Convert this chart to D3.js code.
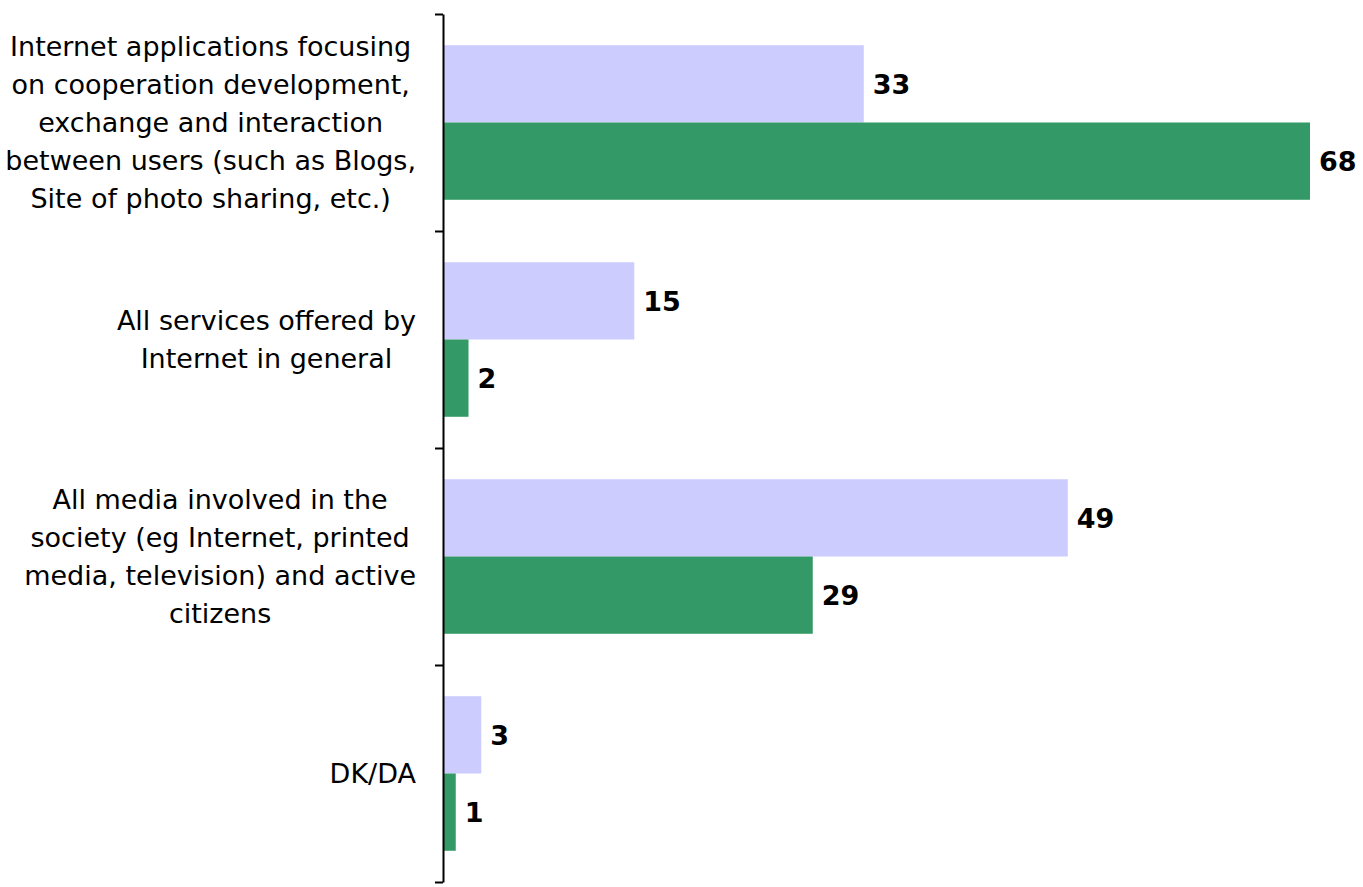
<!DOCTYPE html>
<html>
<head>
<meta charset="utf-8">
<script src="https://cdn.jsdelivr.net/npm/d3@7"></script>
<style>
  html, body { margin: 0; padding: 0; background: #fff; }
  svg { display: block; }
  text { font-family: "DejaVu Sans", Verdana, sans-serif; }
</style>
</head>
<body>
<svg id="chart" width="1363" height="887"></svg>
<script>
// Category labels (line-broken as displayed)
const categories = [
  ["Internet applications focusing", "on cooperation development,", "exchange and interaction", "between users (such as Blogs,", "Site of photo sharing, etc.)"],
  ["All services offered by", "Internet in general"],
  ["All media involved in the", "society (eg Internet, printed", "media, television) and active", "citizens"],
  ["DK/DA"]
];
const seriesNames = ["first", "second"];
const firstValues = [33, 15, 49, 3];
const secondValues = [68, 2, 29, 1];
const seriesColors = ["#CCCCFF", "#339966"];

const svg = d3.select("#chart");
const axisX = 443, plotTop = 14, plotBottom = 882, labelRight = 416;

const x = d3.scaleLinear().domain([0, 68]).range([axisX, 1310]);
const y = d3.scaleBand().domain(d3.range(categories.length)).range([plotTop, plotBottom]).padding(0);
const sub = d3.scaleBand().domain(seriesNames).range([0, y.bandwidth()]).paddingInner(0).paddingOuter(0.404);
const color = d3.scaleOrdinal().domain(seriesNames).range(seriesColors);

const rows = categories.map((c, i) => ({
  i,
  vals: [{ s: "first", v: firstValues[i] }, { s: "second", v: secondValues[i] }]
}));

const groups = svg.append("g").selectAll("g").data(rows).join("g")
  .attr("transform", d => `translate(0,${y(d.i)})`);

groups.selectAll("rect").data(d => d.vals).join("rect")
  .attr("x", x(0))
  .attr("y", d => sub(d.s))
  .attr("width", d => x(d.v) - x(0))
  .attr("height", sub.bandwidth())
  .attr("fill", d => color(d.s));

groups.selectAll("text.val").data(d => d.vals).join("text")
  .attr("class", "val")
  .attr("x", d => x(d.v) + 9)
  .attr("y", d => sub(d.s) + sub.bandwidth() / 2)
  .attr("dy", "0.36em")
  .attr("font-size", 27)
  .attr("font-weight", "bold")
  .attr("fill", "#000")
  .text(d => d.v);

// Axis with ticks at category boundaries
const edges = d3.scaleLinear().domain([0, categories.length]).range([plotTop, plotBottom]);
svg.append("g")
  .attr("transform", `translate(${axisX},0)`)
  .call(d3.axisLeft(edges).tickValues(d3.range(categories.length + 1)).tickSize(8).tickSizeOuter(0).tickFormat(""))
  .call(g => g.selectAll("path,line").attr("stroke", "#000").attr("stroke-width", 2));

// Category labels: block right-aligned, lines centred within block
const lineH = 38, fontSize = 27;
categories.forEach((lines, i) => {
  const g = svg.append("g");
  const cy = y(i) + y.bandwidth() / 2;
  const y0 = cy - (lines.length - 1) * lineH / 2;
  const texts = lines.map((ln, k) => g.append("text")
    .attr("y", y0 + k * lineH)
    .attr("dy", "0.36em")
    .attr("font-size", fontSize)
    .attr("fill", "#000")
    .attr("text-anchor", "middle")
    .text(ln));
  const w = d3.max(texts, t => t.node().getComputedTextLength());
  texts.forEach(t => t.attr("x", labelRight - w / 2));
});
</script>
</body>
</html>
